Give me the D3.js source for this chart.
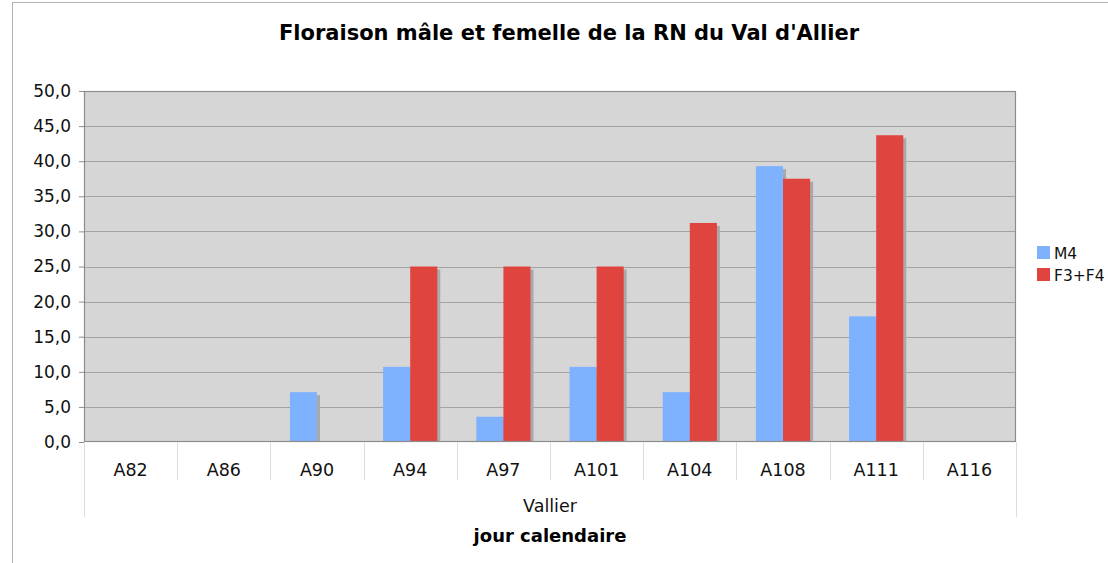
<!DOCTYPE html>
<html>
<head>
<meta charset="utf-8">
<script src="https://cdn.jsdelivr.net/npm/d3@7"></script>
<style>
body { margin: 0; background: #fff; }
text { font-family: "DejaVu Sans", Verdana, sans-serif; }
</style>
</head>
<body>
<svg id="chart" width="1108" height="563"></svg>
<script>
var width = 1108, height = 563;

var margin = ({top: 91, right: 92, bottom: 121, left: 84});

// data
var categories = ["A82", "A86", "A90", "A94", "A97", "A101", "A104", "A108", "A111", "A116"];
var seriesNames = ["M4", "F3+F4"];
var m4Values = [0, 0, 7.1, 10.7, 3.6, 10.7, 7.1, 39.3, 17.9, 0];
var f3f4Values = [0, 0, 0, 25.0, 25.0, 25.0, 31.2, 37.5, 43.7, 0];
var yTicks = [0, 5, 10, 15, 20, 25, 30, 35, 40, 45, 50];
var seriesColors = ["#7eb2ff", "#e0443f"];

var data = categories.map(function(c, i) {
  return {cat: c, values: [m4Values[i], f3f4Values[i]]};
});

var svg = d3.select("#chart").attr("viewBox", [0, 0, width, height]);

// outer frame
svg.append("rect")
  .attr("x", 12.5).attr("y", 2.5)
  .attr("width", width).attr("height", height)
  .attr("fill", "none").attr("stroke", "#b4b4b4");

var x = d3.scaleBand()
  .domain(categories)
  .range([margin.left, width - margin.right]);

var x1 = d3.scaleBand()
  .domain(seriesNames)
  .range([0, x.bandwidth()])
  .paddingOuter(0.72);

var y = d3.scaleLinear()
  .domain([0, 50])
  .range([height - margin.bottom, margin.top]);

var plotW = width - margin.right - margin.left;
var plotH = height - margin.bottom - margin.top;

// plot background
svg.append("rect")
  .attr("x", margin.left).attr("y", margin.top)
  .attr("width", plotW).attr("height", plotH)
  .attr("fill", "#d6d6d6");

// grid
svg.append("g")
  .selectAll("line")
  .data(yTicks.slice(1, -1))
  .join("line")
  .attr("x1", margin.left).attr("x2", width - margin.right)
  .attr("y1", d => Math.round(y(d)) + 0.5).attr("y2", d => Math.round(y(d)) + 0.5)
  .attr("stroke", "#a3a3a3");

// bars with shadow
var groups = svg.append("g")
  .selectAll("g")
  .data(data)
  .join("g")
  .attr("transform", d => `translate(${x(d.cat)},0)`);

seriesNames.forEach(function(s, si) {
  groups.filter(d => d.values[si] > 0)
    .append("rect")
    .attr("x", x1(s) + 3)
    .attr("y", d => y(d.values[si]) + 3)
    .attr("width", x1.bandwidth())
    .attr("height", d => y(0) - y(d.values[si]) - 3)
    .attr("fill", "#a9a9a9");
  groups.filter(d => d.values[si] > 0)
    .append("rect")
    .attr("x", x1(s))
    .attr("y", d => y(d.values[si]))
    .attr("width", x1.bandwidth())
    .attr("height", d => y(0) - y(d.values[si]))
    .attr("fill", seriesColors[si]);
});

// plot border
svg.append("rect")
  .attr("x", margin.left + 0.5).attr("y", margin.top + 0.5)
  .attr("width", plotW - 1).attr("height", plotH - 1)
  .attr("fill", "none").attr("stroke", "#8c8c8c").attr("stroke-width", 1.2);

// y axis
var yAxis = g => g
  .attr("transform", `translate(${margin.left},0)`)
  .call(d3.axisLeft(y)
    .tickValues(yTicks)
    .tickSize(5)
    .tickPadding(8)
    .tickFormat(d => d3.format(".1f")(d).replace(".", ",")))
  .call(g => g.select(".domain").remove())
  .call(g => g.selectAll(".tick line").attr("stroke", "#8c8c8c"))
  .call(g => g.selectAll(".tick text")
    .attr("font-size", 17).attr("fill", "#111")
    .style("font-family", '"DejaVu Sans", Verdana, sans-serif'));

svg.append("g").call(yAxis);

// category separators below plot
var bounds = categories.map(c => x(c)).concat([width - margin.right]);
svg.append("g")
  .selectAll("line")
  .data(bounds)
  .join("line")
  .attr("x1", d => Math.round(d) + 0.5).attr("x2", d => Math.round(d) + 0.5)
  .attr("y1", y(0))
  .attr("y2", (d, i) => (i == 0 || i == bounds.length - 1) ? 517 : 480)
  .attr("stroke", "#dcdcdc");

// x labels
svg.append("g")
  .selectAll("text")
  .data(categories)
  .join("text")
  .attr("x", d => x(d) + x.bandwidth() / 2)
  .attr("y", 476)
  .attr("text-anchor", "middle")
  .attr("font-size", 17.5)
  .attr("fill", "#111")
  .text(d => d);

svg.append("text")
  .attr("x", margin.left + plotW / 2).attr("y", 512)
  .attr("text-anchor", "middle")
  .attr("font-size", 17.5).attr("fill", "#111")
  .text("Vallier");

svg.append("text")
  .attr("x", margin.left + plotW / 2).attr("y", 542)
  .attr("text-anchor", "middle")
  .attr("font-size", 18).attr("font-weight", "bold").attr("fill", "#000")
  .text("jour calendaire");

// title
svg.append("text")
  .attr("x", 569).attr("y", 40)
  .attr("text-anchor", "middle")
  .attr("font-size", 21).attr("font-weight", "bold").attr("fill", "#000")
  .text("Floraison mâle et femelle de la RN du Val d'Allier");

// legend
var legend = svg.append("g")
  .selectAll("g")
  .data(seriesNames)
  .join("g")
  .attr("transform", (d, i) => `translate(1037,${246 + i * 22})`);

legend.append("rect")
  .attr("width", 13).attr("height", 13)
  .attr("fill", (d, i) => seriesColors[i]);

legend.append("text")
  .attr("x", 17).attr("y", 12.5)
  .attr("font-size", 15.5).attr("fill", "#111")
  .text(d => d);
</script>
</body>
</html>
